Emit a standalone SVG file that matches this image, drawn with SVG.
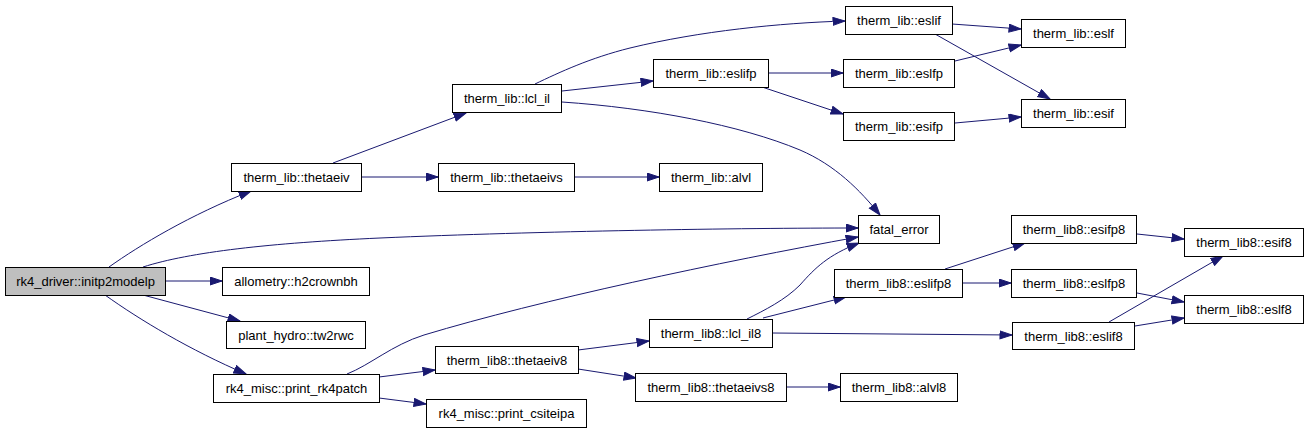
<svg xmlns="http://www.w3.org/2000/svg" width="1309" height="433" viewBox="0 0 1309 433">
<style>
.n rect{fill:#ffffff;stroke:#000000;stroke-width:1}
.n.root rect{fill:#bfbfbf}
.n text{font-family:"Liberation Sans",Arial,sans-serif;font-size:13px;fill:#000000;text-anchor:middle}
.e path{fill:none;stroke:#191970;stroke-width:1;marker-end:url(#ah)}
</style>
<defs>
<marker id="ah" markerUnits="userSpaceOnUse" markerWidth="14" markerHeight="10" refX="12.5" refY="4.5" orient="auto">
<path d="M0.5,0.5 L12.5,4.5 L0.5,8.5 z" fill="#191970" stroke="#191970" stroke-width="1"/>
</marker>
</defs>
<rect width="1309" height="433" fill="#ffffff"/>
<g id="edges" class="e">
<path d="M109,267 C140,245 190,215 251,191"/>
<path d="M143,267 C190,252 270,243 380,238 C540,231 740,228 858,228"/>
<path d="M165,281 L222,281"/>
<path d="M143,295 L240,321"/>
<path d="M105,295 C140,320 190,350 246,374"/>
<path d="M333,163 L466,113"/>
<path d="M361,177 L438,177"/>
<path d="M575,177 L659,177"/>
<path d="M535,84 C560,72 590,58 630,48 C700,31 780,23 845,21"/>
<path d="M562,91 L653,81"/>
<path d="M562,102 C650,108 740,125 800,150 C835,165 860,190 880,215"/>
<path d="M768,73 L843,73"/>
<path d="M762,87 L843,114"/>
<path d="M952,24 L1021,29"/>
<path d="M935,34 L1050,99"/>
<path d="M955,61 L1021,45"/>
<path d="M955,123 L1021,117"/>
<path d="M347,374 C370,365 392,345 424,335 C540,300 720,262 858,237"/>
<path d="M379,377 L435,370"/>
<path d="M379,398 L426,404"/>
<path d="M578,350 L649,341"/>
<path d="M578,369 L636,378"/>
<path d="M786,387 L840,387"/>
<path d="M747,319 C765,310 785,300 800,285 C815,268 828,255 859,243"/>
<path d="M763,318 L846,297"/>
<path d="M772,333 L1012,335"/>
<path d="M945,269 L1025,243"/>
<path d="M962,283 L1011,283"/>
<path d="M1137,234 L1184,239"/>
<path d="M1137,293 L1184,302"/>
<path d="M1109,322 L1223,256"/>
<path d="M1135,326 L1184,318"/>
</g>
<g id="n_initp2modelp" class="n root"><rect x="5.5" y="267.5" width="160" height="28"/><text x="85.5" y="286">rk4_driver::initp2modelp</text></g>
<g id="n_h2crownbh" class="n"><rect x="222.5" y="267.5" width="147" height="28"/><text x="296" y="286">allometry::h2crownbh</text></g>
<g id="n_tw2rwc" class="n"><rect x="226.5" y="321.5" width="139" height="27"/><text x="296" y="339.5">plant_hydro::tw2rwc</text></g>
<g id="n_print_rk4patch" class="n"><rect x="213.5" y="374.5" width="166" height="28"/><text x="296.5" y="393">rk4_misc::print_rk4patch</text></g>
<g id="n_print_csiteipa" class="n"><rect x="426.5" y="399.5" width="160" height="28"/><text x="506.5" y="418">rk4_misc::print_csiteipa</text></g>
<g id="n_thetaeiv" class="n"><rect x="231.5" y="163.5" width="130" height="28"/><text x="296.5" y="182">therm_lib::thetaeiv</text></g>
<g id="n_thetaeivs" class="n"><rect x="438.5" y="163.5" width="136" height="28"/><text x="506.5" y="182">therm_lib::thetaeivs</text></g>
<g id="n_alvl" class="n"><rect x="659.5" y="163.5" width="103" height="28"/><text x="711" y="182">therm_lib::alvl</text></g>
<g id="n_lcl_il" class="n"><rect x="452.5" y="84.5" width="109" height="28"/><text x="507" y="103">therm_lib::lcl_il</text></g>
<g id="n_eslifp" class="n"><rect x="653.5" y="59.5" width="115" height="28"/><text x="711" y="78">therm_lib::eslifp</text></g>
<g id="n_eslif" class="n"><rect x="845.5" y="6.5" width="107" height="28"/><text x="899" y="25">therm_lib::eslif</text></g>
<g id="n_eslfp" class="n"><rect x="843.5" y="59.5" width="111" height="28"/><text x="899" y="78">therm_lib::eslfp</text></g>
<g id="n_esifp" class="n"><rect x="843.5" y="112.5" width="111" height="28"/><text x="899" y="131">therm_lib::esifp</text></g>
<g id="n_eslf" class="n"><rect x="1021.5" y="19.5" width="104" height="28"/><text x="1073.5" y="38">therm_lib::eslf</text></g>
<g id="n_esif" class="n"><rect x="1021.5" y="99.5" width="104" height="28"/><text x="1073.5" y="118">therm_lib::esif</text></g>
<g id="n_fatal_error" class="n"><rect x="858.5" y="215.5" width="81" height="28"/><text x="899" y="234">fatal_error</text></g>
<g id="n_thetaeiv8" class="n"><rect x="435.5" y="346.5" width="143" height="27"/><text x="507" y="364.5">therm_lib8::thetaeiv8</text></g>
<g id="n_lcl_il8" class="n"><rect x="649.5" y="319.5" width="123" height="28"/><text x="711" y="338">therm_lib8::lcl_il8</text></g>
<g id="n_thetaeivs8" class="n"><rect x="635.5" y="373.5" width="151" height="28"/><text x="711" y="392">therm_lib8::thetaeivs8</text></g>
<g id="n_alvl8" class="n"><rect x="840.5" y="373.5" width="117" height="28"/><text x="899" y="392">therm_lib8::alvl8</text></g>
<g id="n_eslifp8" class="n"><rect x="834.5" y="269.5" width="128" height="28"/><text x="898.5" y="288">therm_lib8::eslifp8</text></g>
<g id="n_esifp8" class="n"><rect x="1011.5" y="215.5" width="125" height="28"/><text x="1074" y="234">therm_lib8::esifp8</text></g>
<g id="n_eslfp8" class="n"><rect x="1011.5" y="269.5" width="125" height="28"/><text x="1074" y="288">therm_lib8::eslfp8</text></g>
<g id="n_eslif8" class="n"><rect x="1012.5" y="322.5" width="122" height="27"/><text x="1073.5" y="340.5">therm_lib8::eslif8</text></g>
<g id="n_esif8" class="n"><rect x="1184.5" y="228.5" width="119" height="28"/><text x="1244" y="247">therm_lib8::esif8</text></g>
<g id="n_eslf8" class="n"><rect x="1184.5" y="295.5" width="119" height="28"/><text x="1244" y="314">therm_lib8::eslf8</text></g>
</svg>
